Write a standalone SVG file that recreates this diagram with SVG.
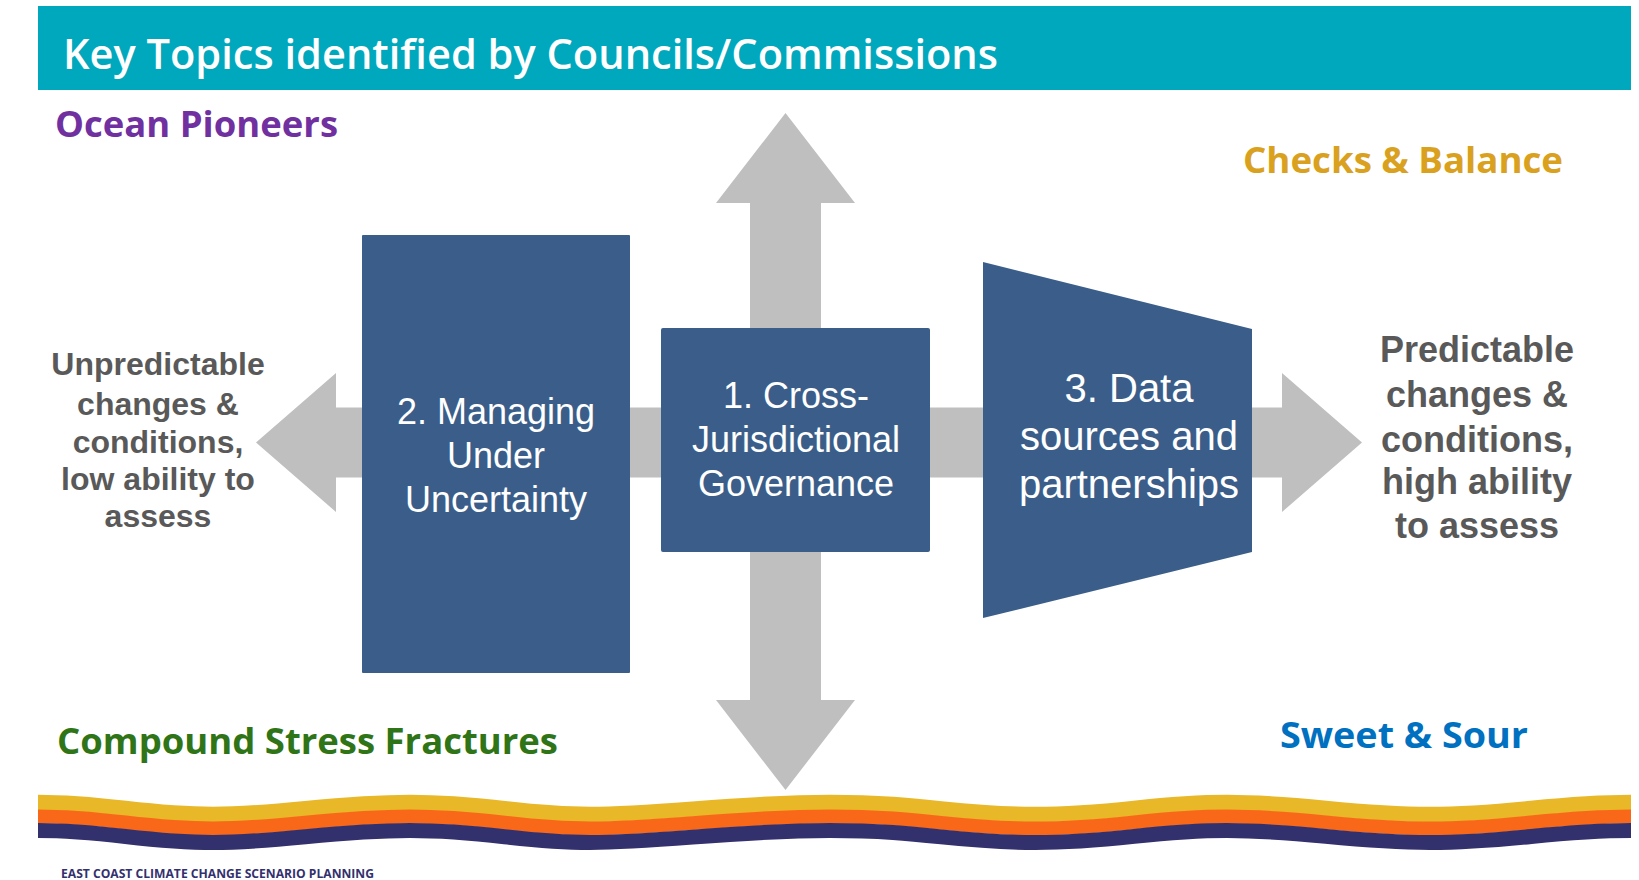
<svg xmlns="http://www.w3.org/2000/svg" xmlns:xlink="http://www.w3.org/1999/xlink" width="1639" height="880" viewBox="0 0 1639 880">
<style>
.box{fill:#3A5E89;}
.arrow{fill:#BFBFBF;}
.boxtxt{font-family:"Liberation Sans",Arial,sans-serif;fill:#FFFFFF;text-anchor:middle;}
.side{font-family:"Liberation Sans",Arial,sans-serif;font-weight:bold;fill:#595959;text-anchor:middle;}
.label{font-family:"Open Sans","Noto Sans",sans-serif;font-weight:bold;font-size:35px;}
</style>
<defs>
<path id="wave" fill="none" d="M38,0 C108,0 143,12 213,12 S331,0 410,0 S518,12 590,12 S734,0 830,0 S953,12 1035,12 S1150,0 1227,0 S1349,12 1430,12 S1551,0 1631,0"/>
</defs>
<rect width="1639" height="880" fill="#FFFFFF"/>
<g id="header">
<rect x="38" y="6" width="1593" height="84" fill="#00A8BD"/>
<text x="63" y="69" font-family="'Open Sans','Noto Sans',sans-serif" font-weight="600" font-size="41" fill="#FFFFFF" textLength="935" lengthAdjust="spacingAndGlyphs">Key Topics identified by Councils/Commissions</text>
</g>
<g id="connectors">
<polygon class="arrow" points="256,442.5 336,373 336,407.5 1282,407.5 1282,373 1362,442.5 1282,512 1282,477.5 336,477.5 336,512"/>
<polygon class="arrow" points="785.5,113 855,203 821,203 821,700 855,700 785.5,790 716,700 750,700 750,203 716,203"/>
</g>
<g id="node-managing">
<rect class="box" x="362" y="235" width="268" height="438" rx="1"/>
<text class="boxtxt" font-size="36"><tspan x="496" y="424">2. Managing</tspan><tspan x="496" y="468">Under</tspan><tspan x="496" y="512">Uncertainty</tspan></text>
</g>
<g id="node-cross">
<rect class="box" x="661" y="328" width="269" height="224" rx="2"/>
<text class="boxtxt" font-size="36"><tspan x="796" y="408">1. Cross-</tspan><tspan x="796" y="452">Jurisdictional</tspan><tspan x="796" y="496">Governance</tspan></text>
</g>
<g id="node-data">
<polygon class="box" points="983,262 1252,329 1252,552 983,618"/>
<text class="boxtxt" font-size="40"><tspan x="1129" y="402">3. Data</tspan><tspan x="1129" y="450">sources and</tspan><tspan x="1129" y="498">partnerships</tspan></text>
</g>
<g id="left-label">
<text class="side" font-size="32"><tspan x="158" y="375">Unpredictable</tspan><tspan x="158" y="415">changes &amp;</tspan><tspan x="158" y="453">conditions,</tspan><tspan x="158" y="490">low ability to</tspan><tspan x="158" y="527">assess</tspan></text>
</g>
<g id="right-label">
<text class="side" font-size="36"><tspan x="1477" y="362">Predictable</tspan><tspan x="1477" y="407">changes &amp;</tspan><tspan x="1477" y="452">conditions,</tspan><tspan x="1477" y="494">high ability</tspan><tspan x="1477" y="538">to assess</tspan></text>
</g>
<g id="quadrant-labels">
<text class="label" x="55" y="137" fill="#7030A0" textLength="283" lengthAdjust="spacingAndGlyphs">Ocean Pioneers</text>
<text class="label" x="1243" y="173" fill="#D9A11E" textLength="320" lengthAdjust="spacingAndGlyphs">Checks &amp; Balance</text>
<text class="label" x="57" y="754" fill="#2F7517" textLength="501" lengthAdjust="spacingAndGlyphs">Compound Stress Fractures</text>
<text class="label" x="1280" y="748" fill="#0070C0" textLength="248" lengthAdjust="spacingAndGlyphs">Sweet &amp; Sour</text>
</g>
<g id="wave-band">
<use xlink:href="#wave" href="#wave" transform="translate(0,802.5)" stroke="#E8B828" stroke-width="15.5"/>
<use xlink:href="#wave" href="#wave" transform="translate(0,816.5)" stroke="#F96819" stroke-width="14"/>
<use xlink:href="#wave" href="#wave" transform="translate(0,830.5)" stroke="#33306E" stroke-width="15"/>
</g>
<text x="61" y="878" font-family="'Open Sans','Noto Sans',sans-serif" font-weight="bold" font-size="12" fill="#33306E" textLength="313" lengthAdjust="spacingAndGlyphs">EAST COAST CLIMATE CHANGE SCENARIO PLANNING</text>
</svg>
